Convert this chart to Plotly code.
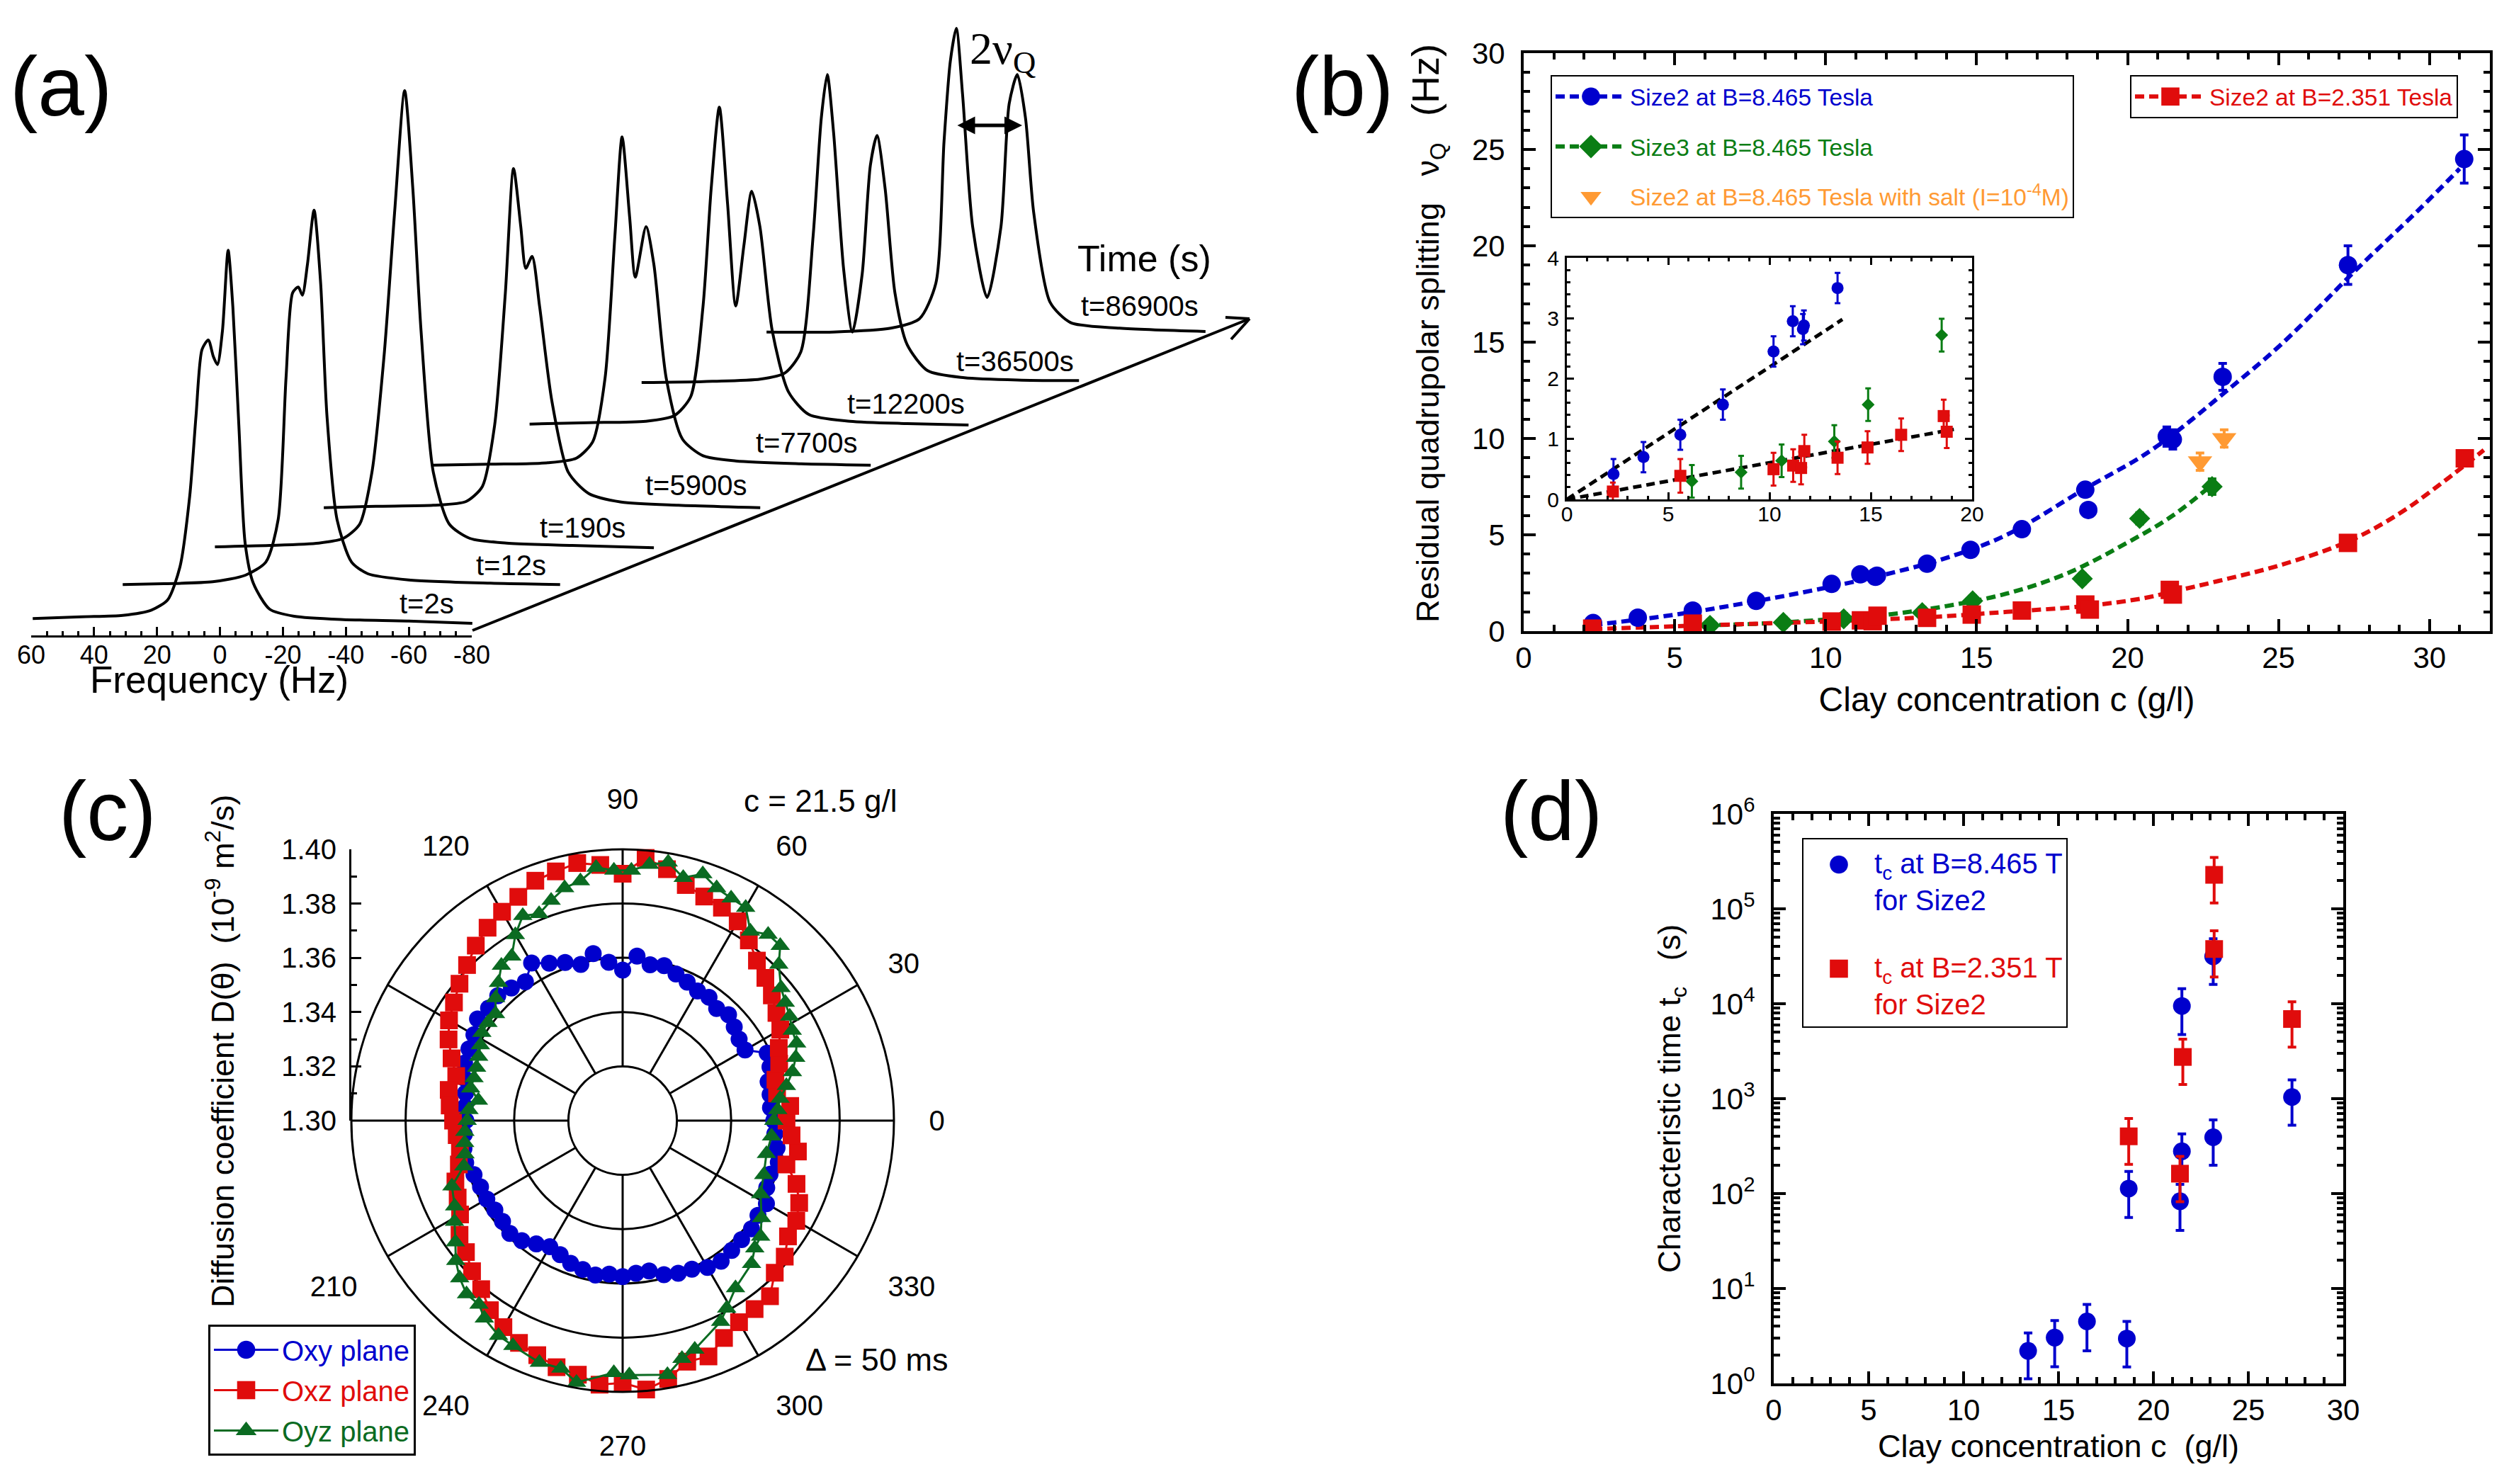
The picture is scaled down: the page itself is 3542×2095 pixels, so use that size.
import plotly.graph_objects as go

W, H = 3542, 2095
FONT = "Liberation Sans"
BLUE, RED, GREEN, DGREEN, ORANGE = "#0000cd", "#e00c0c", "#0a7d14", "#0b6b22", "#ff9a33"

# ---------- panel (a): spectra ----------
spec_times = ["t=2s", "t=12s", "t=190s", "t=5900s", "t=7700s", "t=12200s", "t=36500s", "t=86900s"]
stack_hz = [0, 28.6, 57.9, 92.5, 126.8, 157.9, 193.5, 233.2]
stack_int = [0, 72, 152, 235, 325, 412, 500, 607]
f1 = [60, 44.4, 31.4, 22.3, 17.1, 13.2, 10.1, 8.1, 6.2, 4.2, 2.6, 1.3, -0.3, -2.1, -3.6, -5.5, -7.5, -10.1, -15.3, -23.1, -38.7, -59.5, -79.7]
i1 = [0, 4, 7, 18, 40, 110, 260, 430, 570, 590, 555, 538, 610, 780, 660, 410, 160, 75, 20, 5, -2, -5, -10]
f2 = [60, 47, 31.4, 21, 14.5, 10.6, 8.1, 6, 4.2, 2.9, 1.3, -0.8, -2.9, -4.9, -8.1, -12.7, -17.9, -30.9, -56.9, -79]
i2 = [0, 2, 6, 20, 48, 138, 438, 618, 630, 613, 678, 793, 638, 358, 138, 48, 23, 10, 3, 0]
f3 = [60, 42.6, 27, 19.2, 14, 10.1, 6.2, 2.9, -0.3, -2.9, -5.5, -9.4, -14.5, -21, -32.7, -53.5, -79.5]
i3 = [0, 3, 8, 18, 48, 158, 408, 708, 966, 758, 458, 158, 48, 18, 8, 3, -2]
f4 = [60, 43.4, 25.2, 14.8, 9.6, 5.7, 2.3, -0.3, -2.6, -4.2, -6.2, -8.6, -12.5, -17.7, -24.2, -34.5, -52.7, -78.7]
i4 = [0, 3, 5, 13, 45, 175, 455, 718, 595, 507, 532, 425, 225, 75, 30, 12, 5, 0]
f5 = [60, 41.3, 23.1, 14, 8.8, 4.9, 1.8, -0.5, -2.9, -4.7, -8.1, -10.6, -14.5, -19.7, -26.2, -36.6, -57.4, -79.5]
i5 = [0, 2, 5, 15, 50, 185, 485, 695, 525, 398, 505, 425, 185, 55, 20, 9, 3, 0]
f6 = [60, 41.3, 23.1, 14, 8.8, 4.9, 2.3, -0.3, -2.9, -5.5, -8.1, -10.6, -13.2, -17.1, -22.3, -28.8, -41.8, -60, -79.5]
i6 = [0, 3, 6, 18, 58, 248, 498, 671, 468, 250, 378, 493, 418, 198, 68, 20, 6, 1, -2]
f7 = [60, 40.5, 22.3, 14.5, 9.4, 5.5, 2.9, 1, -1, -4.2, -7, -10.1, -12.7, -14.8, -17.4, -20.5, -24.4, -30.9, -42.6, -60.8, -79]
i7 = [0, 2, 7, 20, 65, 310, 560, 652, 530, 240, 107, 230, 460, 523, 410, 190, 80, 25, 10, 5, 4]
f8 = [60, 38.7, 20.5, 11.4, 6.2, 3.6, 1.6, -0.3, -2.3, -5.5, -10.1, -14.5, -17.1, -19.7, -22.3, -24.9, -30.1, -36.6, -52.2, -79.5]
i8 = [0, 0, 8, 28, 103, 403, 573, 643, 503, 223, 73, 223, 483, 545, 453, 253, 63, 20, 8, 1]
spec_f = [f1, f2, f3, f4, f5, f6, f7, f8]
spec_i = [i1, i2, i3, i4, i5, i6, i7, i8]

# ---------- panel (b) ----------
b_blue_x = [2.3, 3.78, 5.6, 7.7, 10.2, 11.15, 11.65, 11.7, 13.36, 14.8, 16.5, 18.6, 18.7, 21.3, 21.5, 23.15, 27.3, 31.15]
b_blue_y = [0.42, 0.7, 1.07, 1.57, 2.45, 2.95, 2.82, 2.88, 3.5, 4.22, 5.29, 7.34, 6.29, 10.1, 9.95, 13.2, 19.0, 24.5]
b_blue_e = [0.25, 0.25, 0.25, 0.25, 0.25, 0.25, 0.25, 0.25, 0.25, 0.3, 0.3, 0.3, 0.3, 0.5, 0.5, 0.7, 1.0, 1.25]
b_green_x = [6.17, 8.6, 10.6, 13.2, 14.87, 18.5, 20.4, 22.8]
b_green_y = [0.3, 0.45, 0.64, 0.96, 1.57, 2.72, 5.85, 7.5]
b_green_e = [0.27, 0.27, 0.27, 0.27, 0.27, 0.27, 0.3, 0.4]
b_red_x = [2.27, 5.6, 10.2, 11.17, 11.56, 11.72, 13.36, 14.84, 16.5, 18.6, 18.75, 21.4, 21.5, 27.3, 31.17]
b_red_y = [0.13, 0.39, 0.5, 0.56, 0.52, 0.8, 0.69, 0.86, 1.07, 1.38, 1.12, 2.14, 1.9, 4.58, 8.97]
b_red_e = [0.15, 0.28, 0.27, 0.27, 0.27, 0.27, 0.27, 0.27, 0.27, 0.27, 0.27, 0.3, 0.3, 0.3, 0.4]
b_org_x = [22.4, 23.2]
b_org_y = [8.8, 10.0]
b_org_e = [0.45, 0.45]
fit_blue_x = [2.3, 5, 7.5, 10, 12, 14, 16, 18.6, 20.4, 21.5, 23.15, 25.1, 27.6, 29.6, 31]
fit_blue_y = [0.32, 0.85, 1.5, 2.25, 2.95, 3.8, 5.0, 7.4, 9.0, 10.2, 12.3, 14.9, 18.8, 21.8, 24]
fit_green_x = [6, 8, 10, 12, 14, 16, 18, 20, 21.5, 22.8]
fit_green_y = [0.3, 0.4, 0.6, 0.85, 1.3, 1.95, 3.0, 4.6, 6.0, 7.6]
fit_red_x = [2.3, 5, 8, 10, 12, 14, 16, 18.6, 20.5, 21.5, 23, 25, 27.3, 29, 30.5, 31.8]
fit_red_y = [0.1, 0.25, 0.4, 0.5, 0.62, 0.78, 1.0, 1.3, 1.7, 2.05, 2.6, 3.4, 4.65, 6.1, 7.8, 9.4]
fit_in1_x = [0, 13.6]
fit_in1_y = [0, 2.98]
fit_in2_x = [0, 19.1]
fit_in2_y = [0, 1.16]

# ---------- panel (c) ----------
c_blue_t = [i * 5 for i in range(72)]
c_blue_r = [1.3557, 1.3547, 1.3552, 1.3555, 1.3578, 1.3588, 1.3521, 1.3524, 1.3537, 1.3552, 1.3539, 1.3555,
            1.3552, 1.3563, 1.3575, 1.3591, 1.3583, 1.3609, 1.3555, 1.3586, 1.3625, 1.3596, 1.3620, 1.3640,
            1.3671, 1.3625, 1.3638, 1.3651, 1.3645, 1.3653, 1.3633, 1.3625, 1.3620, 1.3604, 1.3588, 1.3583,
            1.3578, 1.3586, 1.3594, 1.3599, 1.3583, 1.3578, 1.3578, 1.3575, 1.3578, 1.3588, 1.3578, 1.3555,
            1.3537, 1.3545, 1.3560, 1.3568, 1.3578, 1.3568, 1.3575, 1.3565, 1.3563, 1.3588, 1.3599, 1.3604,
            1.3625, 1.3633, 1.3625, 1.3620, 1.3620, 1.3609, 1.3612, 1.3586, 1.3578, 1.3594, 1.3578, 1.3563]
c_red_t = [i * 5 for i in range(72)]
c_red_r = [1.3604, 1.3620, 1.3578, 1.3583, 1.3614, 1.3635, 1.3671, 1.3692, 1.3718, 1.3744, 1.3770, 1.3811,
           1.3848, 1.3866, 1.3879, 1.3899, 1.3941, 1.3972, 1.3910, 1.3946, 1.3964, 1.3951, 1.3941, 1.3910,
           1.3889, 1.3868, 1.3842, 1.3811, 1.3785, 1.3759, 1.3739, 1.3708, 1.3671, 1.3635, 1.3651, 1.3640,
           1.3625, 1.3614, 1.3609, 1.3625, 1.3656, 1.3671, 1.3692, 1.3734, 1.3754, 1.3785, 1.3811, 1.3853,
           1.3879, 1.3904, 1.3920, 1.3941, 1.3951, 1.3977, 1.3967, 1.3995, 1.3967, 1.3920, 1.3925, 1.3884,
           1.3858, 1.3848, 1.3845, 1.3793, 1.3780, 1.3744, 1.3739, 1.3718, 1.3682, 1.3625, 1.3656, 1.3625]
c_green_t = [0, 4, 8, 12, 16, 20, 24, 28, 32, 36, 40, 45, 48, 52, 56, 60, 64, 68, 72, 76, 80, 84, 88, 92, 96, 100,
             104, 108, 112, 116, 120, 124, 128, 132, 136, 140, 144, 148, 152, 156, 160, 164, 168, 172, 176, 180,
             184, 188, 192, 196, 201, 207, 211, 216, 220, 224, 228, 232, 235, 240, 244, 251, 256, 260, 268, 271.5,
             280, 284, 287.5, 296, 299, 304, 312, 316, 320, 325, 332, 339, 347, 354]
c_green_r = [1.3557, 1.3573, 1.3586, 1.3617, 1.3651, 1.3679, 1.3702, 1.3708, 1.3726, 1.3741, 1.3762, 1.3814,
             1.3868, 1.3871, 1.3842, 1.3907, 1.3912, 1.3925, 1.3956, 1.3923, 1.3967, 1.3949, 1.3923, 1.3923,
             1.3938, 1.3897, 1.3884, 1.3853, 1.3822, 1.3840, 1.3791, 1.3731, 1.3726, 1.3684, 1.3651, 1.3612,
             1.3614, 1.3612, 1.3594, 1.3581, 1.3573, 1.3570, 1.3573, 1.3537, 1.3568, 1.3573, 1.3583, 1.3588,
             1.3594, 1.3609, 1.3674, 1.3695, 1.3723, 1.3762, 1.3803, 1.3835, 1.3860, 1.3860, 1.3889, 1.3915,
             1.3923, 1.3943, 1.3941, 1.3980, 1.3930, 1.3938, 1.3951, 1.3904, 1.3884, 1.3824, 1.3791, 1.3744,
             1.3710, 1.3677, 1.3664, 1.3625, 1.3576, 1.3557, 1.3544, 1.3552]
c_angle_ticks = [0, 30, 60, 90, 120, 150, 180, 210, 240, 270, 300, 330]
c_angle_text = ["0", "30", "60", "90", "120", "", "", "210", "240", "270", "300", "330"]

# ---------- panel (d) ----------
d_blue_x = [13.4, 14.8, 16.5, 18.6, 18.7, 21.4, 21.5, 21.5, 23.15, 23.15, 27.3]
d_blue_y = [2.2, 3.04, 4.5, 2.97, 113, 83, 279, 9470, 392, 31500, 1040]
d_blue_hi = [3.4, 4.6, 6.8, 4.5, 171, 125, 425, 14400, 597, 48400, 1580]
d_blue_lo = [1.12, 1.5, 2.2, 1.49, 56, 41, 140, 4740, 199, 16000, 526]
d_red_x = [23.2, 23.2, 21.55, 27.3, 18.7, 21.4]
d_red_y = [228000, 37700, 2750, 6900, 401, 162]
d_red_hi = [348000, 58700, 4240, 10500, 617, 246]
d_red_lo = [115000, 19100, 1410, 3490, 203, 82]


def X(px):
    return px / W


def Y(py):
    return 1 - py / H


def dom_x(a, b):
    return [X(a), X(b)]


def dom_y(top, bottom):
    return [Y(bottom), Y(top)]


fig = go.Figure()


def tick_axis(extra):
    d = dict(showline=True, linecolor="black", linewidth=4, ticks="inside", tickcolor="black", tickwidth=4,
             ticklen=17, showgrid=False, zeroline=False, mirror="allticks",
             tickfont=dict(family=FONT, size=42, color="black"),
             minor=dict(ticks="inside", ticklen=9, tickwidth=4, tickcolor="black", showgrid=False))
    d.update(extra)
    return d


# panel (a) curves
for k in range(8):
    fig.add_trace(go.Scatter(x=[v - stack_hz[k] for v in spec_f[k]], y=[v + stack_int[k] for v in spec_i[k]],
                             mode="lines", line=dict(color="black", width=4, shape="spline", smoothing=0.7),
                             xaxis="x", yaxis="y", showlegend=False, hoverinfo="skip", name=spec_times[k]))
# tick axis of (a)
fig.add_trace(go.Scatter(x=[60, -80], y=[0, 0], mode="lines", line=dict(width=0), xaxis="x2", yaxis="y2",
                         showlegend=False, hoverinfo="skip"))

DASH = "13px,7px"


def fits(xa, ya):
    fig.add_trace(go.Scatter(x=fit_blue_x, y=fit_blue_y, mode="lines", xaxis=xa, yaxis=ya, showlegend=False,
                             line=dict(color=BLUE, width=6, dash=DASH, shape="spline"), hoverinfo="skip"))
    fig.add_trace(go.Scatter(x=fit_green_x, y=fit_green_y, mode="lines", xaxis=xa, yaxis=ya, showlegend=False,
                             line=dict(color=GREEN, width=6, dash=DASH, shape="spline"), hoverinfo="skip"))
    fig.add_trace(go.Scatter(x=fit_red_x, y=fit_red_y, mode="lines", xaxis=xa, yaxis=ya, showlegend=False,
                             line=dict(color=RED, width=6, dash=DASH, shape="spline"), hoverinfo="skip"))


def pts(x, y, e, color, symbol, size, xa, ya, thick=4, w=6):
    fig.add_trace(go.Scatter(x=x, y=y, mode="markers", xaxis=xa, yaxis=ya, showlegend=False,
                             marker=dict(color=color, symbol=symbol, size=size),
                             error_y=dict(type="data", array=e, color=color, thickness=thick, width=w)))


fits("x3", "y3")
pts(b_blue_x, b_blue_y, b_blue_e, BLUE, "circle", 26, "x3", "y3")
pts(b_green_x, b_green_y, b_green_e, GREEN, "diamond", 23, "x3", "y3")
pts(b_red_x, b_red_y, b_red_e, RED, "square", 26, "x3", "y3")
pts(b_org_x, b_org_y, b_org_e, ORANGE, "triangle-down", 30, "x3", "y3")


# legend entries of (b)
def entry(name, color, symbol, size, legend, group, dash=True):
    fig.add_trace(go.Scatter(x=[None], y=[None], xaxis="x3", yaxis="y3", name=name, legend=legend, legendgroup=group,
                             mode="lines+markers" if dash else "markers",
                             line=dict(color=color, width=6, dash=DASH), marker=dict(color=color, symbol=symbol, size=size)))


entry(f'<span style="color:{BLUE}">Size2 at B=8.465 Tesla</span>', BLUE, "circle", 27, "legend", "g1")
entry(f'<span style="color:{GREEN}">Size3 at B=8.465 Tesla</span>', GREEN, "diamond", 30, "legend", "g2")
entry(f'<span style="color:{ORANGE}">Size2 at B=8.465 Tesla with salt (I=10<sup>-4</sup>M)</span>', ORANGE, "triangle-down", 26, "legend", "g3", dash=False)
entry(f'<span style="color:{RED}">Size2 at B=2.351 Tesla</span>', RED, "square", 26, "legend2", "g4")

# inset of (b)
fig.add_trace(go.Scatter(x=fit_in1_x, y=fit_in1_y, mode="lines", xaxis="x4", yaxis="y4", showlegend=False,
                         line=dict(color="black", width=5, dash="12px,7px"), hoverinfo="skip"))
fig.add_trace(go.Scatter(x=fit_in2_x, y=fit_in2_y, mode="lines", xaxis="x4", yaxis="y4", showlegend=False,
                         line=dict(color="black", width=5, dash="12px,7px"), hoverinfo="skip"))


def sub(x, y, e, xmax):
    keep = [i for i in range(len(x)) if x[i] < xmax]
    return [x[i] for i in keep], [y[i] for i in keep], [e[i] for i in keep]


pts(*sub(b_blue_x, b_blue_y, b_blue_e, 14), BLUE, "circle", 17, "x4", "y4", thick=3, w=4)
pts(*sub(b_green_x, b_green_y, b_green_e, 20), GREEN, "diamond", 14, "x4", "y4", thick=3, w=4)
pts(*sub(b_red_x, b_red_y, b_red_e, 20), RED, "square", 17, "x4", "y4", thick=3, w=4)

# panel (c)
for nm, t, r, col, sym, sz, lw in [("Oxy plane", c_blue_t, c_blue_r, BLUE, "circle", 24, 3),
                                   ("Oxz plane", c_red_t, c_red_r, RED, "square", 25, 3),
                                   ("Oyz plane", c_green_t, c_green_r, DGREEN, "triangle-up", 24, 3)]:
    fig.add_trace(go.Scatterpolar(theta=t, r=r, mode="lines+markers", name=f'<span style="color:{col}">{nm}</span>',
                                  legend="legend3", legendgroup=nm, line=dict(color=col, width=lw),
                                  marker=dict(color=col, symbol=sym, size=sz), cliponaxis=False))
fig.add_trace(go.Scatter(x=[0, 1], y=[1.3, 1.3], mode="lines", line=dict(width=0), xaxis="x6", yaxis="y6",
                         showlegend=False, hoverinfo="skip"))

# panel (d)
fig.add_trace(go.Scatter(x=d_blue_x, y=d_blue_y, mode="markers", xaxis="x5", yaxis="y5", legend="legend4", legendgroup="d1",
                         name=f'<span style="color:{BLUE}">t<sub>c</sub> at B=8.465 T<br>for Size2</span>',
                         marker=dict(color=BLUE, symbol="circle", size=25),
                         error_y=dict(type="data", array=[h - v for h, v in zip(d_blue_hi, d_blue_y)],
                                      arrayminus=[v - l for v, l in zip(d_blue_y, d_blue_lo)],
                                      color=BLUE, thickness=4, width=6)))
fig.add_trace(go.Scatter(x=d_red_x, y=d_red_y, mode="markers", xaxis="x5", yaxis="y5", legend="legend4", legendgroup="d2",
                         name=f'<span style="color:{RED}">t<sub>c</sub> at B=2.351 T<br>for Size2</span>',
                         marker=dict(color=RED, symbol="square", size=25),
                         error_y=dict(type="data", array=[h - v for h, v in zip(d_red_hi, d_red_y)],
                                      arrayminus=[v - l for v, l in zip(d_red_y, d_red_lo)],
                                      color=RED, thickness=4, width=6)))

layout = dict(
    width=W, height=H, autosize=False, margin=dict(l=0, r=0, t=0, b=0, autoexpand=False), paper_bgcolor="white", plot_bgcolor="rgba(0,0,0,0)",
    font=dict(family=FONT, color="black", size=40), showlegend=True,
    # (a)
    xaxis=dict(domain=dom_x(0, 1800), range=[70.4, -334.8], visible=False, fixedrange=True),
    yaxis=dict(domain=dom_y(0, 1040), range=[-250, 1310], visible=False, fixedrange=True),
    xaxis2=dict(domain=dom_x(44, 666), range=[60, -80], anchor="y2", tickvals=[60, 40, 20, 0, -20, -40, -60, -80],
                ticktext=["60", "40", "20", "0", "-20", "-40", "-60", "-80"], showline=True, linecolor="black", linewidth=3,
                ticks="inside", ticklen=12, tickwidth=3, tickcolor="black", showgrid=False, zeroline=False,
                tickfont=dict(family=FONT, size=36, color="black"), ticklabelstandoff=-6,
                minor=dict(ticks="inside", ticklen=6, tickwidth=3, tickcolor="black", dtick=5, tick0=0, showgrid=False)),
    yaxis2=dict(domain=dom_y(894, 897), anchor="x2", visible=False, range=[-1, 1]),
    # (b)
    xaxis3=tick_axis(dict(domain=dom_x(2151, 3515), range=[0, 32], anchor="y3", dtick=5, tick0=0, ticklabelstandoff=-2,
                          minor=dict(ticks="inside", ticklen=9, tickwidth=4, tickcolor="black", dtick=1, tick0=0, showgrid=False),
                          title=dict(text="Clay concentration c (g/l)", font=dict(family=FONT, size=48), standoff=20))),
    yaxis3=tick_axis(dict(domain=dom_y(75, 891), range=[0, 30], anchor="x3", dtick=5, tick0=0, ticklabelstandoff=14,
                          minor=dict(ticks="inside", ticklen=9, tickwidth=4, tickcolor="black", dtick=1, tick0=0, showgrid=False),
                          title=dict(text="&nbsp;&nbsp;Residual quadrupolar splitting&nbsp;&nbsp;&nbsp;ν<sub>Q</sub>&nbsp;&nbsp;&nbsp;<span style=\"font-size:54px\">(Hz)</span>",
                                     font=dict(family=FONT, size=45), standoff=33))),
    xaxis4=tick_axis(dict(domain=dom_x(2212, 2784), range=[0, 20], anchor="y4", dtick=5, tick0=0, linewidth=3, tickwidth=3,
                          ticklen=10, ticklabelstandoff=-8, tickfont=dict(family=FONT, size=30, color="black"),
                          minor=dict(ticks="inside", ticklen=5, tickwidth=3, tickcolor="black", dtick=1, tick0=0, showgrid=False))),
    yaxis4=tick_axis(dict(domain=dom_y(364, 705), range=[0, 4], anchor="x4", dtick=1, tick0=0, linewidth=3, tickwidth=3,
                          ticklen=10, ticklabelstandoff=2, tickfont=dict(family=FONT, size=30, color="black"),
                          minor=dict(ticks="inside", ticklen=5, tickwidth=3, tickcolor="black", dtick=0.2, tick0=0, showgrid=False))),
    # (d)
    xaxis5=tick_axis(dict(domain=dom_x(2504, 3308), range=[0, 30], anchor="y5", dtick=5, tick0=0, ticklabelstandoff=-2,
                          minor=dict(ticks="inside", ticklen=9, tickwidth=4, tickcolor="black", dtick=1, tick0=0, showgrid=False),
                          title=dict(text="Clay concentration c&nbsp;&nbsp;(g/l)", font=dict(family=FONT, size=45), standoff=13))),
    yaxis5=tick_axis(dict(domain=dom_y(1149, 1953), type="log", range=[0, 6], anchor="x5", tickvals=[1, 10, 100, 1000, 10000, 100000, 1000000],
                          ticktext=["10<sup>%d</sup>" % i for i in range(7)], ticklabelstandoff=14,
                          minor=dict(ticks="inside", ticklen=9, tickwidth=4, tickcolor="black", showgrid=False,
                                     tickvals=[m * 10 ** e for e in range(6) for m in range(2, 10)]),
                          title=dict(text="Characteristic time t<sub>c</sub>&nbsp;&nbsp;&nbsp;(s)", font=dict(family=FONT, size=44), standoff=29))),
    # (c) radial scale at the left
    xaxis6=dict(domain=dom_x(496, 560), range=[0, 1], anchor="y6", visible=False),
    yaxis6=dict(domain=dom_y(1199, 1582), range=[1.30, 1.40], anchor="x6", dtick=0.02, tick0=1.30, tickformat=".2f",
                showline=True, linecolor="black", linewidth=3, ticks="inside", ticklen=14, tickwidth=3, tickcolor="black",
                showgrid=False, zeroline=False, tickfont=dict(family=FONT, size=40, color="black"), ticklabelstandoff=10,
                minor=dict(ticks="inside", ticklen=8, tickwidth=3, tickcolor="black", dtick=0.01, tick0=1.30, showgrid=False)),
    polar=dict(domain=dict(x=dom_x(496, 1262), y=dom_y(1199, 1965)), hole=0.2, bgcolor="rgba(0,0,0,0)",
               radialaxis=dict(range=[1.32, 1.40], tickvals=[1.34, 1.36, 1.38, 1.40], showticklabels=False, ticks="",
                               showline=False, gridcolor="black", gridwidth=3),
               angularaxis=dict(direction="counterclockwise", rotation=0, tickvals=c_angle_ticks, ticktext=c_angle_text,
                                gridcolor="black", gridwidth=3, linecolor="black", linewidth=3, ticks="outside", ticklen=40,
                                tickcolor="rgba(0,0,0,0)", tickfont=dict(family=FONT, size=40, color="black"))),
    legend=dict(x=X(2189), y=Y(106), xanchor="left", yanchor="top", bordercolor="black", borderwidth=2, bgcolor="white",
                font=dict(family=FONT, size=33.5), itemwidth=100, tracegroupgap=24, itemclick=False, itemdoubleclick=False),
    legend2=dict(x=X(3007), y=Y(106), xanchor="left", yanchor="top", bordercolor="black", borderwidth=2, bgcolor="white",
                 font=dict(family=FONT, size=33.5), itemwidth=100, itemclick=False, itemdoubleclick=False),
    legend3=dict(x=X(294), y=Y(1870), xanchor="left", yanchor="top", bordercolor="black", borderwidth=3, bgcolor="white",
                 font=dict(family=FONT, size=40), itemwidth=91, tracegroupgap=2, itemclick=False, itemdoubleclick=False),
    legend4=dict(x=X(2544), y=Y(1183), xanchor="left", yanchor="top", bordercolor="black", borderwidth=2, bgcolor="white",
                 font=dict(family=FONT, size=40), itemwidth=90, tracegroupgap=40, itemclick=False, itemdoubleclick=False),
)


def note(px, py, text, size, color="black", family=FONT, angle=0, xanchor="center"):
    return dict(x=X(px), y=Y(py), xref="paper", yref="paper", text=text, showarrow=False, textangle=angle,
                font=dict(family=family, size=size, color=color), xanchor=xanchor, yanchor="middle")


anns = [
    note(86, 122, "(a)", 118), note(1895, 122, "(b)", 118), note(152, 1145, "(c)", 118), note(2190, 1145, "(d)", 118),
    note(309, 959, "Frequency (Hz)", 53), note(1615, 365, "Time (s)", 52),
    note(1367, 73, "2ν<sub>Q</sub>", 64, family="Liberation Serif", xanchor="left"),
    note(1609, 432, "t=86900s", 40), note(1433, 510, "t=36500s", 40), note(1279, 570, "t=12200s", 40),
    note(1138, 625, "t=7700s", 40), note(982, 685, "t=5900s", 40), note(822, 745, "t=190s", 40),
    note(721, 798, "t=12s", 40), note(602, 852, "t=2s", 40),
    note(1158, 1130, "c = 21.5 g/l", 44), note(1237, 1919, "Δ = 50 ms", 45),
    note(311, 1484, "Diffusion coefficient D(θ)&nbsp;&nbsp;(10<sup>-9</sup> m<sup>2</sup>/s)", 45, angle=-90),
    dict(x=X(1443), y=Y(177), ax=-93, ay=0, xref="paper", yref="paper", axref="pixel", ayref="pixel",
         text="", showarrow=True, arrowside="end+start", arrowhead=2, arrowwidth=5, arrowsize=1, arrowcolor="black",
         standoff=0, startstandoff=0),
]
layout["annotations"] = anns
layout["shapes"] = [
    dict(type="line", xref="paper", yref="paper", x0=X(667), y0=Y(890), x1=X(1764), y1=Y(450), line=dict(color="black", width=4)),
    dict(type="line", xref="paper", yref="paper", x0=X(1730), y0=Y(448), x1=X(1764), y1=Y(450), line=dict(color="black", width=4)),
    dict(type="line", xref="paper", yref="paper", x0=X(1738), y0=Y(479), x1=X(1764), y1=Y(450), line=dict(color="black", width=4)),
]
fig.update_layout(**layout)
POST = """
document.body.style.margin='0';
document.querySelectorAll('g.legendpoints path.scatterpts').forEach(function(p){
  var t = p.getAttribute('transform') || '';
  p.setAttribute('transform', t + ' scale(1.6)');
});
document.querySelectorAll('.legend4 g.legendpoints').forEach(function(g){
  g.setAttribute('transform', 'translate(0,-23)');
});
"""
fig.write_html("out.html", post_script=POST, config=dict(displayModeBar=False))
